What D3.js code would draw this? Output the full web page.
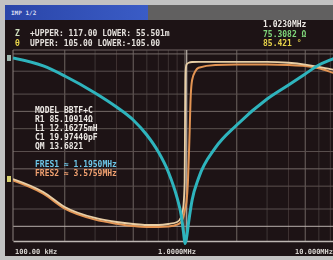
<!DOCTYPE html>
<html>
<head>
<meta charset="utf-8">
<script src="https://cdn.jsdelivr.net/npm/d3@7"></script>
<style>
  html, body { margin: 0; padding: 0; background: #c2c2c2; }
  svg { display: block; }
  text { font-family: "DejaVu Sans Mono", monospace; font-weight: bold; }
</style>
</head>
<body>
<svg id="chart" width="333" height="260"></svg>
<script>
// impedance |Z| (ohm) vs frequency (kHz)
const freqZ = [100, 150, 200, 300, 400, 500, 600, 700, 800, 900, 950, 980, 1000, 1020, 1050, 1100, 1200, 1500, 2000, 3000, 4000, 5000, 6000, 7000, 8000];
const impedance = [85.0, 61.7, 41.3, 20.9, 11.9, 7.08, 3.88, 1.97, 0.883, 0.311, 0.157, 0.0796, 0.05, 0.0626, 0.119, 0.287, 0.693, 2.31, 5.80, 16.4, 28.8, 44.8, 64.2, 78.5, 92.1];

// phase (deg), measured trace (beige)
const freqPhaseA = [100, 150, 200, 300, 400, 500, 600, 700, 800, 900, 950, 980, 995, 1000, 1005, 1010, 1020, 1050, 1100, 1200, 1500, 2000, 3000, 4000, 5000, 6000, 7000, 8000];
const phaseA = [-36.8, -51.1, -67.6, -79.7, -84.1, -86.3, -87.4, -87.4, -86.3, -84.1, -78.6, -65.4, -40, 20, 70, 84, 89, 91, 91.8, 92, 92, 92, 92, 91, 89, 86.5, 84, 82];

// phase (deg), model trace (orange)
const freqPhaseB = [100, 150, 200, 300, 400, 500, 600, 700, 800, 900, 950, 980, 1000, 1020, 1040, 1060, 1080, 1100, 1150, 1200, 1500, 2000, 3000, 4000, 5000, 6000, 7000, 8000];
const phaseB = [-38.5, -53, -69.5, -81.5, -86, -88.5, -89.5, -89.5, -89, -87, -84, -78, -70, -62, -40, 5, 55, 72, 82, 85.5, 88.5, 89, 89, 88.5, 87.5, 85, 81, 77];

const zLimits = [0.055501, 117];
const phaseLimits = [-105, 105];
const freqLimits = [100, 10000];
const cursorFreq = 1023;

const zGridMajor = [0.1, 1, 10, 100];
const zGridMinor = [0.2, 0.5, 2, 5, 20, 50];
const fGridMajor = [200, 500, 2000, 5000];
const fGridMinor = [300, 400, 600, 700, 800, 900, 3000, 4000, 6000, 7000, 8000, 9000];

const freqLabels = ["100.00 kHz", "1.0000MHz", "10.000MHz"];
const headerMarks = ["Z", "θ"];
const headerRows = ["+UPPER: 117.00  LOWER: 55.501m", " UPPER: 105.00  LOWER:-105.00"];
const readouts = ["1.0230MHz", "75.3082 Ω", "85.421  °"];
const modelLines = ["MODEL  BBTF+C", "R1  85.10914Ω", "L1  12.16275mH", "C1  19.97440pF", "QM  13.6821"];
const resLines = ["FRES1 ≈ 1.1950MHz", "FRES2 ≈ 3.5759MHz"];

const cyan = "#2fb4bd", beige = "#e9cfa6", orange = "#e39453", green = "#7fd67a", yellow = "#e6d24a";

const svg = d3.select("#chart");
const margin = { top: 50, left: 13, bottom: 241, right: 357 };

const x = d3.scaleLog().domain(freqLimits).range([margin.left, margin.right]);
const yZ = d3.scaleLog().domain(zLimits).range([margin.bottom, margin.top]);
const yP = d3.scaleLinear().domain(phaseLimits).range([margin.bottom, margin.top]);

// soft look of the photographed screen
const defs = svg.append("defs");
defs.append("filter").attr("id", "soft")
  .append("feGaussianBlur").attr("stdDeviation", 0.45);
defs.append("clipPath").attr("id", "plotclip")
  .append("rect").attr("x", 13).attr("y", 48).attr("width", 320).attr("height", 200);
const barGrad = defs.append("linearGradient").attr("id", "bar").attr("x1", 0).attr("x2", 1);
barGrad.append("stop").attr("offset", "0%").attr("stop-color", "#2a45a8");
barGrad.append("stop").attr("offset", "100%").attr("stop-color", "#3a5cc6");

// screen
svg.append("rect").attr("x", 5).attr("y", 5).attr("width", 328).attr("height", 251).attr("fill", "#1d1315");
svg.append("rect").attr("x", 5).attr("y", 5).attr("width", 328).attr("height", 15).attr("fill", "#616060");
svg.append("rect").attr("x", 5).attr("y", 5).attr("width", 143).attr("height", 15).attr("fill", "url(#bar)");
svg.append("text").attr("x", 11).attr("y", 15).attr("fill", "#d8dcf0")
  .style("font-size", "6px").text("IMP 1/2");

const scr = svg.append("g").attr("filter", "url(#soft)");

// grid
const grid = scr.append("g");
grid.selectAll(".fmin").data(fGridMinor).join("line")
  .attr("x1", d => x(d)).attr("x2", d => x(d))
  .attr("y1", margin.top).attr("y2", margin.bottom)
  .attr("stroke", "#3e3434").attr("stroke-width", 1);
grid.selectAll(".fmaj").data(fGridMajor).join("line")
  .attr("x1", d => x(d)).attr("x2", d => x(d))
  .attr("y1", margin.top).attr("y2", margin.bottom)
  .attr("stroke", "#6e6462").attr("stroke-width", 1);
grid.selectAll(".zmin").data(zGridMinor).join("line")
  .attr("x1", margin.left).attr("x2", 333)
  .attr("y1", d => yZ(d)).attr("y2", d => yZ(d))
  .attr("stroke", "#5a504e").attr("stroke-width", 1);
grid.selectAll(".zmaj").data(zGridMajor).join("line")
  .attr("x1", margin.left).attr("x2", 333)
  .attr("y1", d => yZ(d)).attr("y2", d => yZ(d))
  .attr("stroke", d => d === 0.1 ? "#b8b0ac" : "#736967").attr("stroke-width", 1);
// top edge and left edge
grid.append("line").attr("x1", margin.left).attr("x2", 333)
  .attr("y1", yP(105)).attr("y2", yP(105)).attr("stroke", "#6e6462");
grid.append("line").attr("x1", x(100)).attr("x2", x(100))
  .attr("y1", margin.top).attr("y2", margin.bottom).attr("stroke", "#8a807c");
// centre decade line and cursor
grid.append("line").attr("x1", x(1000)).attr("x2", x(1000))
  .attr("y1", margin.top).attr("y2", margin.bottom).attr("stroke", "#7a706c");
grid.append("line").attr("x1", x(cursorFreq)).attr("x2", x(cursorFreq))
  .attr("y1", margin.top).attr("y2", margin.bottom).attr("stroke", "#b5aca6").attr("stroke-width", 1.2);

// bottom axis
const xAxis = d3.axisBottom(x).tickValues([]).tickSizeOuter(0);
scr.append("g")
  .attr("transform", "translate(0," + margin.bottom + ")")
  .call(xAxis)
  .call(g => g.select(".domain").attr("stroke", "#bdb6b2").attr("stroke-width", 1.6));

// traces
const plot = scr.append("g").attr("clip-path", "url(#plotclip)");
const zLine = d3.line().curve(d3.curveMonotoneX).x(d => x(d[0])).y(d => yZ(d[1]));
const pLine = d3.line().curve(d3.curveMonotoneX).x(d => x(d[0])).y(d => yP(d[1]));

plot.append("path")
  .datum(d3.zip(freqPhaseB, phaseB))
  .attr("fill", "none").attr("stroke", orange).attr("stroke-width", 2)
  .attr("d", pLine);
plot.append("path")
  .datum(d3.zip(freqPhaseA, phaseA))
  .attr("fill", "none").attr("stroke", beige).attr("stroke-width", 1.8)
  .attr("d", pLine);
plot.append("path")
  .datum(d3.zip(freqZ, impedance))
  .attr("fill", "none").attr("stroke", cyan).attr("stroke-width", 3)
  .attr("d", zLine);

// left reference markers
scr.append("rect").attr("x", 7).attr("y", yZ(impedance[0]) - 3).attr("width", 4).attr("height", 6).attr("fill", "#9fb8b0");
scr.append("rect").attr("x", 7).attr("y", yP(phaseA[0]) - 3).attr("width", 4).attr("height", 6).attr("fill", "#d8d070");

// header
const txt = scr.append("g").style("font-size", "8px");
txt.selectAll(".mark").data(headerMarks).join("text")
  .attr("x", 15).attr("y", (d, i) => 36 + i * 10)
  .attr("fill", (d, i) => i === 0 ? "#cfe0c0" : yellow).text(d => d);
txt.selectAll(".row").data(headerRows).join("text")
  .attr("x", 30).attr("y", (d, i) => 36 + i * 10)
  .attr("fill", "#e4e0dc").text(d => d);
txt.selectAll(".read").data(readouts).join("text")
  .attr("x", 263).attr("y", (d, i) => 27 + i * 9.5)
  .attr("fill", (d, i) => [ "#ece8e4", green, yellow ][i]).text(d => d);

// model parameter box
txt.selectAll(".model").data(modelLines).join("text")
  .attr("x", 35).attr("y", (d, i) => 113 + i * 9)
  .attr("fill", "#ece8e4").text(d => d);
txt.selectAll(".res").data(resLines).join("text")
  .attr("x", 35).attr("y", (d, i) => 167 + i * 8.5)
  .attr("fill", (d, i) => i === 0 ? "#6cc6e8" : "#f0a070").text(d => d);

// frequency labels
txt.append("text").attr("x", x(freqLimits[0]) + 2).attr("y", 254)
  .attr("fill", "#d8d4d0").style("font-size", "7px").text(freqLabels[0]);
txt.append("text").attr("x", x(1000) - 8).attr("y", 254).attr("text-anchor", "middle")
  .attr("fill", "#d8d4d0").style("font-size", "7px").text(freqLabels[1]);
txt.append("text").attr("x", 333).attr("y", 254).attr("text-anchor", "end")
  .attr("fill", "#d8d4d0").style("font-size", "7px").text(freqLabels[2]);
</script>
</body>
</html>
